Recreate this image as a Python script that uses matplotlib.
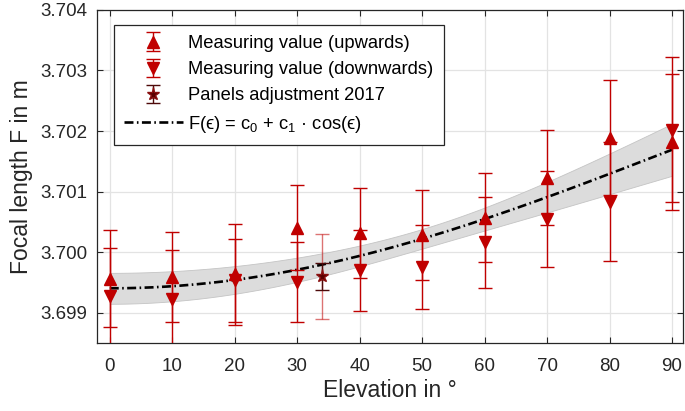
import numpy as np
import matplotlib
matplotlib.use("Agg")
import matplotlib.pyplot as plt

plt.rcParams['font.family'] = ['Liberation Sans', 'DejaVu Sans']
plt.rcParams['mathtext.default'] = 'regular'

# ---- data ----
elevation = [0, 10, 20, 30, 40, 50, 60, 70, 80, 90]
F_up = [3.69956, 3.69959, 3.69963, 3.70040, 3.70031, 3.70028, 3.70057, 3.70123, 3.70189, 3.70182]
F_up_err = [0.00080, 0.00074, 0.00083, 0.00070, 0.00074, 0.00074, 0.00073, 0.00078, 0.00095, 0.00113]
F_down = [3.69927, 3.69923, 3.69953, 3.69951, 3.69970, 3.69975, 3.70016, 3.70055, 3.70083, 3.70202]
F_down_err = [0.00080, 0.00080, 0.00068, 0.00066, 0.00067, 0.00070, 0.00075, 0.00079, 0.00098, 0.00120]

panel_elev = [34.0]
panel_F = [3.69960]
panel_err_small = [0.00022]
panel_err_large = [0.00070]

# fit F(e) = c0 + c1*cos(e) and parameter uncertainties
c0, c1 = 3.70169, -0.00229
s_c0, s_c1, rho = 0.00043, 0.000597, -0.927

xticks = [0, 10, 20, 30, 40, 50, 60, 70, 80, 90]
yticks = [3.699, 3.700, 3.701, 3.702, 3.703, 3.704]

red = '#c00000'
dark = '#4d0a0a'

fig = plt.figure(figsize=(6.85, 4.11), dpi=100)
ax = fig.add_axes([0.142, 0.166, 0.9975 - 0.142, 0.9757 - 0.166])

e = np.linspace(0, 90, 200)
c = np.cos(np.deg2rad(e))
F_fit = c0 + c1 * c
half = np.sqrt(s_c0**2 + 2 * rho * s_c0 * s_c1 * c + (s_c1 * c)**2)
ax.fill_between(e, F_fit - half, F_fit + half, facecolor='#dcdcdc', edgecolor='#c4c4c4',
                linewidth=0.6, zorder=1)

ebkw = dict(linestyle='none', elinewidth=1.0, capsize=4.7, capthick=1.0)
h_up = ax.errorbar(elevation, F_up, yerr=F_up_err, marker='^', ms=8, color=red,
                   mfc=red, mec=red, zorder=4, **ebkw)
h_dn = ax.errorbar(elevation, F_down, yerr=F_down_err, marker='v', ms=8, color=red,
                   mfc=red, mec=red, zorder=4, **ebkw)
ax.errorbar(panel_elev, panel_F, yerr=panel_err_large, marker='none', color=red,
            alpha=0.55, zorder=3, **ebkw)
h_pa = ax.errorbar(panel_elev, panel_F, yerr=panel_err_small, marker='*', ms=9.5,
                   color=dark, mfc='#5a0000', mec='#8a1010', zorder=5, **ebkw)

h_fit, = ax.plot(e, F_fit, color='black', linewidth=1.9, dashes=(3.4, 1.3, 0.6, 1.3), zorder=3)

ax.set_xlim(-2.0, 91.8)
ax.set_ylim(3.6985, 3.704)
ax.set_xticks(xticks)
ax.set_yticks(yticks)
ax.set_yticklabels([f'{v:.3f}' for v in yticks])
ax.grid(True, color='#e3e3e3', linewidth=0.9, zorder=0)
ax.set_axisbelow(True)
ax.tick_params(direction='in', length=4.5, width=0.8, top=True, right=True,
               labelsize=13.5, colors='#262626', pad=7)
ax.tick_params(axis='x', pad=11)
for s in ax.spines.values():
    s.set_color('#262626')
    s.set_linewidth(0.9)

ax.set_xlabel('Elevation in °', fontsize=16.5, color='#262626', labelpad=3)
ax.set_ylabel('Focal length F in m', fontsize=16.5, color='#262626', labelpad=5)

leg = ax.legend([h_up, h_dn, h_pa, h_fit],
                ['Measuring value (upwards)', 'Measuring value (downwards)',
                 'Panels adjustment 2017',
                 'F(ϵ) = c$_0$ + c$_1$ · cos(ϵ)'],
                loc='upper left', bbox_to_anchor=(0.0285, 0.955), borderaxespad=0,
                fontsize=13.2, frameon=True, fancybox=False, edgecolor='#262626',
                handlelength=3.2, handletextpad=0.3, labelspacing=0.5,
                borderpad=0.55, framealpha=1)
leg.get_frame().set_linewidth(0.9)

fig.savefig('out.png', dpi=100)
